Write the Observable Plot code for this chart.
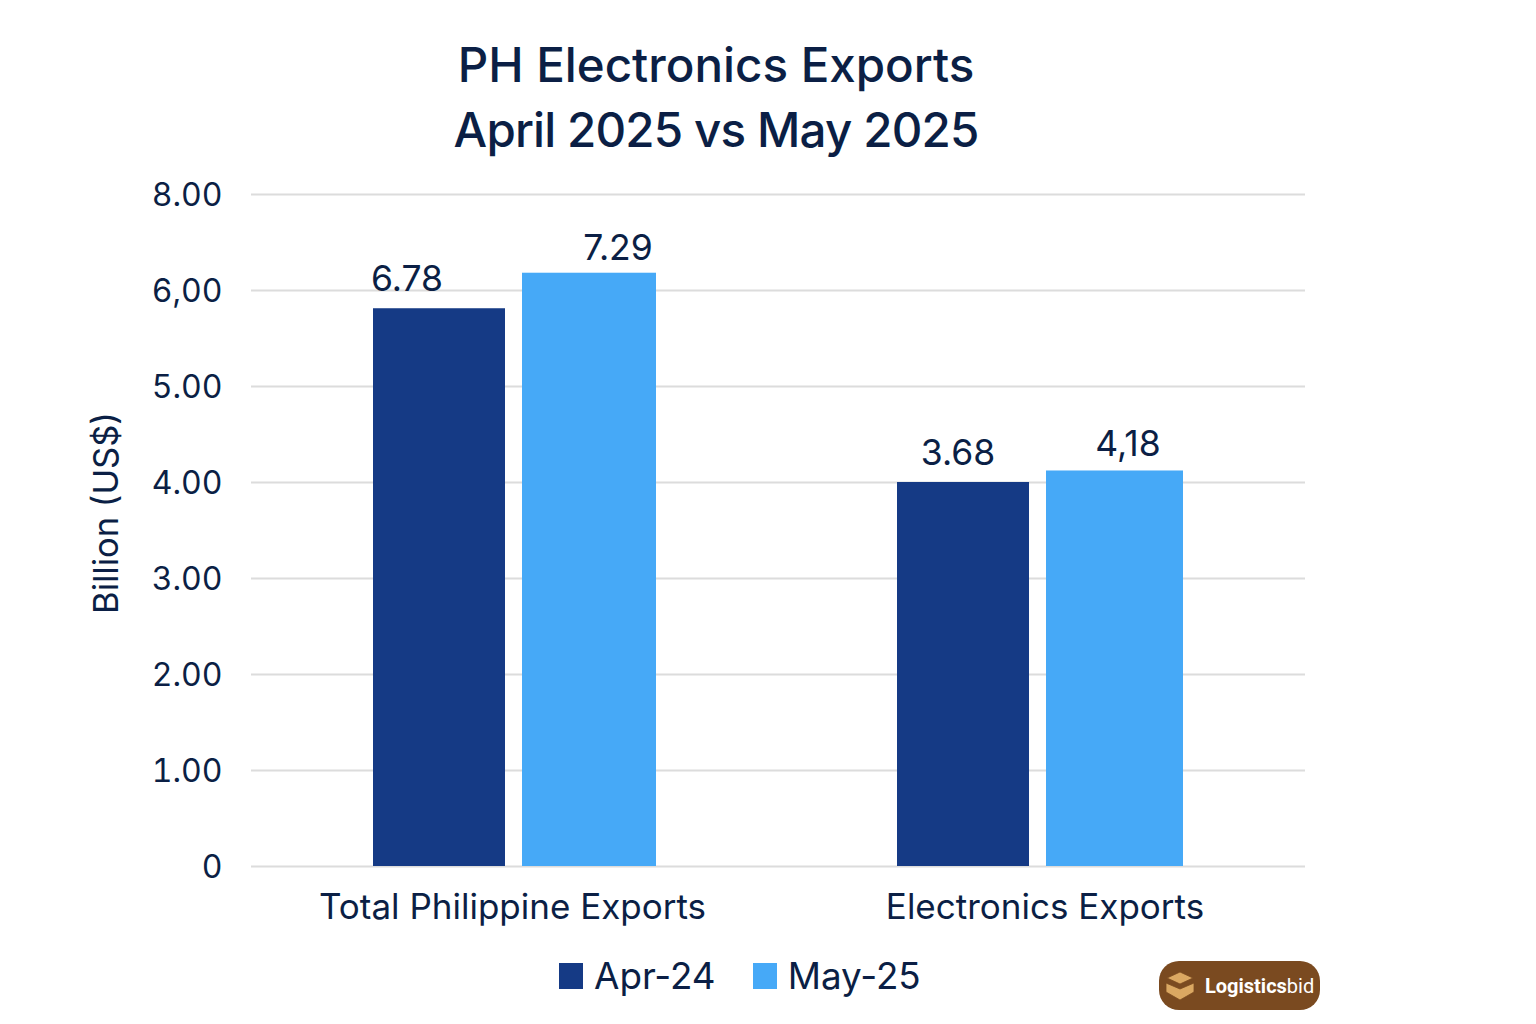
<!DOCTYPE html>
<html>
<head>
<meta charset="utf-8">
<script src="https://cdn.jsdelivr.net/npm/d3@7"></script>
<script src="https://cdn.jsdelivr.net/npm/@observablehq/plot@0.6"></script>
<style>
  html, body { margin: 0; padding: 0; background: #fff; }
  body { width: 1536px; height: 1024px; position: relative; overflow: hidden; font-family: Inter, "Noto Sans", sans-serif; color: #0b1f45; }
  #title { position: absolute; left: 316px; width: 800px; top: 32px; text-align: center; font-size: 47.5px; font-weight: 500; line-height: 65px; }
  #title .second { letter-spacing: -0.85px; }
  #chart { position: absolute; left: 0; top: 0; }
  #ylabel { position: absolute; left: 104.5px; top: 513px; transform: translate(-50%,-50%) rotate(-90deg); font-size: 34.5px; white-space: nowrap; }
  #legend { position: absolute; left: 559px; top: 954px; display: flex; align-items: center; font-size: 36.8px; line-height: 44px; }
  #legend i { display: inline-block; width: 24px; height: 26px; margin-right: 11px; }
  #legend span { margin-right: 37px; }
  #logo { position: absolute; left: 1159px; top: 961px; width: 161px; height: 49px; border-radius: 20px; background: #7a4a20; display: flex; align-items: center; color: #fff; font-family: Roboto, sans-serif; font-size: 20px; }
  #logo svg { margin-left: 5px; margin-right: 9px; }
</style>
</head>
<body>
<div id="chart"></div>
<div id="title">PH Electronics Exports<br><span class="second">April 2025 vs May 2025</span></div>
<div id="ylabel"></div>
<div id="legend"></div>
<div id="logo">
  <svg width="32" height="32" viewBox="0 0 32 32"><path d="M16 2 L29 8 L16 14 L3 8 Z M2 13 L16 19 L30 13 L30 22 L16 30 L2 22 Z" fill="#dba862" stroke="#7a4a20" stroke-width="0.8"/></svg>
  <span><b>Logistics</b>bid</span>
</div>
<script>
const categories = ["Total Philippine Exports", "Electronics Exports"];
const seriesNames = ["Apr-24", "May-25"];
// Bar heights as drawn, read against the evenly spaced tick rows.
const apr24Heights = [5.81, 4.0];
const may25Heights = [6.18, 4.12];
// Value labels exactly as printed.
const apr24Labels = ["6.78", "3.68"];
const may25Labels = ["7.29", "4,18"];
const tickRows = [0, 1, 2, 3, 4, 5, 6, 7];
const tickLabels = ["0", "1.00", "2.00", "3.00", "4.00", "5.00", "6,00", "8.00"];
const yTitle = "Billion (US$)";
const colors = ["#153a85", "#46a9f7"];

const rows = categories.flatMap((c, i) => [
  {category: c, series: seriesNames[0], h: apr24Heights[i], label: apr24Labels[i]},
  {category: c, series: seriesNames[1], h: may25Heights[i], label: may25Labels[i]}
]);
const labelOffsets = [[-33, -18], [28, -13], [-9, -18], [11, -15]];
const barAdjust = [
  {insetRight: 1},
  {insetLeft: -1},
  {dx: -3, insetRight: 1},
  {insetLeft: -4}
];

const chart = Plot.plot({
  width: 1536,
  height: 1024,
  marginTop: 194,
  marginBottom: 158,
  marginLeft: 251,
  marginRight: 231,
  style: {fontFamily: "Inter, 'Noto Sans', sans-serif", color: "#0b1f45", background: "transparent"},
  fx: {domain: categories, padding: 0, label: null},
  x: {domain: seriesNames, paddingInner: 0.113, paddingOuter: 0.813, axis: null},
  y: {domain: [0, 7], axis: null},
  color: {domain: seriesNames, range: colors},
  marks: [
    Plot.ruleY(tickRows, {stroke: "#dcdcdc", strokeWidth: 2}),
    ...rows.map((r, i) => Plot.barY([r], {fx: "category", x: "series", y: "h", fill: "series", ...barAdjust[i]})),
    ...rows.map((r, i) => Plot.text([r], {
      fx: "category", x: "series", y: "h", text: "label",
      dx: labelOffsets[i][0], dy: labelOffsets[i][1],
      lineAnchor: "bottom", fontSize: 35.5, fill: "#0b1f45"
    })),
    Plot.axisY({ticks: tickRows, tickFormat: i => tickLabels[i], tickSize: 0, tickPadding: 29, dy: 1, fontSize: 32, label: null, fill: "#0b1f45"}),
    Plot.axisFx({anchor: "bottom", ticks: [categories[0]], tickSize: 0, tickPadding: 28, dx: -2.5, fontSize: 35, label: null, fill: "#0b1f45"}),
    Plot.axisFx({anchor: "bottom", ticks: [categories[1]], tickSize: 0, tickPadding: 28, dx: 3, fontSize: 35, label: null, fill: "#0b1f45"})
  ]
});
document.getElementById("chart").appendChild(chart);
document.getElementById("ylabel").textContent = yTitle;
const legend = document.getElementById("legend");
seriesNames.forEach((s, i) => {
  const sw = document.createElement("i");
  sw.style.background = colors[i];
  const t = document.createElement("span");
  t.textContent = s;
  legend.append(sw, t);
});
</script>
</body>
</html>
